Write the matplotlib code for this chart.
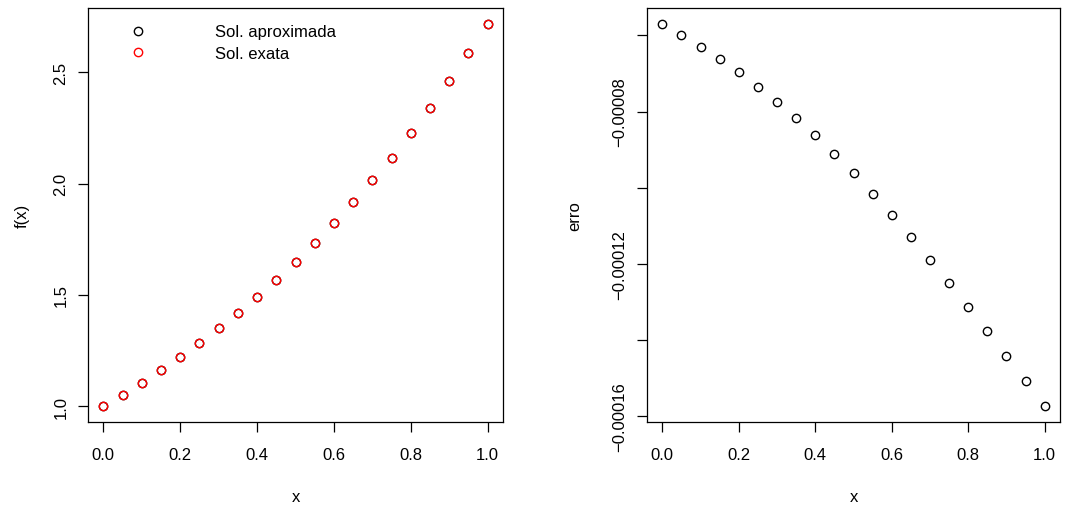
import matplotlib
matplotlib.use("Agg")
import matplotlib.pyplot as plt

plt.rcParams['font.family'] = ['Liberation Sans', 'DejaVu Sans']
plt.rcParams['font.size'] = 12

# malha e soluções
x = [0.00, 0.05, 0.10, 0.15, 0.20, 0.25, 0.30, 0.35, 0.40, 0.45, 0.50,
     0.55, 0.60, 0.65, 0.70, 0.75, 0.80, 0.85, 0.90, 0.95, 1.00]
sol_exata = [1.000, 1.051, 1.105, 1.162, 1.221, 1.284, 1.350, 1.419, 1.492, 1.568, 1.649,
             1.733, 1.822, 1.916, 2.014, 2.117, 2.226, 2.340, 2.460, 2.586, 2.718]
sol_aprox = [1.000, 1.051, 1.105, 1.162, 1.221, 1.284, 1.350, 1.419, 1.492, 1.568, 1.649,
             1.733, 1.822, 1.916, 2.014, 2.117, 2.226, 2.340, 2.460, 2.586, 2.718]
erro = [-0.0000569, -0.0000598, -0.0000630, -0.0000662, -0.0000697, -0.0000735, -0.0000775,
        -0.0000817, -0.0000863, -0.0000911, -0.0000962, -0.0001016, -0.0001072, -0.0001129,
        -0.0001190, -0.0001252, -0.0001315, -0.0001378, -0.0001442, -0.0001508, -0.0001575]

xticks = [0.0, 0.2, 0.4, 0.6, 0.8, 1.0]
yticks_f = [1.0, 1.5, 2.0, 2.5]
yticks_erro = [-0.00006, -0.00008, -0.00010, -0.00012, -0.00014, -0.00016]
ylabels_erro = ['', '\u22120.00008', '', '\u22120.00012', '', '\u22120.00016']


def r_limits(v):
    lo, hi = min(v), max(v)
    pad = 0.04 * (hi - lo)
    return lo - pad, hi + pad


def style_axes(ax):
    for s in ax.spines.values():
        s.set_linewidth(0.9)
    ax.tick_params(direction='out', length=7, width=0.9)
    ax.tick_params(axis='x', pad=11)
    ax.tick_params(axis='y', pad=7)
    ax.set_xticks(xticks)
    ax.set_xticklabels([f'{t:.1f}' for t in xticks])
    ax.set_xlim(r_limits(x))
    ax.set_xlabel('x', labelpad=20)


fig = plt.figure(figsize=(10.82, 5.06), dpi=100)
ax1 = fig.add_axes([88 / 1082, 83.3 / 506, 415 / 1082, 413.4 / 506])
ax2 = fig.add_axes([647 / 1082, 83.3 / 506, 413 / 1082, 413.4 / 506])

mk = dict(marker='o', linestyle='none', markersize=6, markerfacecolor='none', markeredgewidth=1.0)

ax1.plot(x, sol_aprox, color='black', label='Sol. aproximada', **mk)
ax1.plot(x, sol_exata, color='red', label='Sol. exata', **mk)
style_axes(ax1)
ax1.set_ylim(r_limits(sol_exata))
ax1.set_yticks(yticks_f)
ax1.set_yticklabels([f'{t:.1f}' for t in yticks_f], rotation=90, va='center')
ax1.set_ylabel('f(x)', labelpad=17)
ax1.legend(frameon=False, loc='upper left', bbox_to_anchor=(0.065, 0.977),
           handlelength=2, handletextpad=3.6, labelspacing=0.4, borderaxespad=0)

ax2.plot(x, erro, color='black', **mk)
style_axes(ax2)
ax2.set_ylim(r_limits(erro))
ax2.set_yticks(yticks_erro)
ax2.set_yticklabels(ylabels_erro, rotation=90, va='center')
ax2.set_ylabel('erro', labelpad=22)

fig.savefig('out.png', dpi=100)
